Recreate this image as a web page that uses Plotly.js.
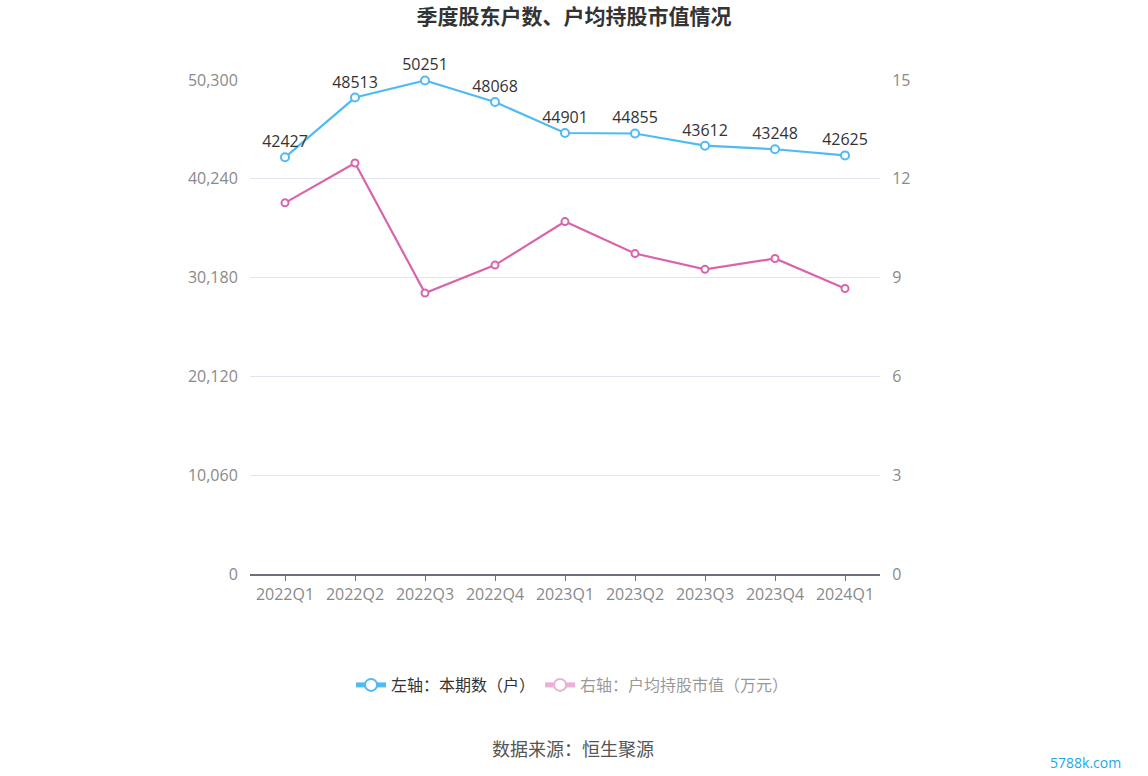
<!DOCTYPE html>
<html>
<head>
<meta charset="utf-8">
<script src="https://cdn.plot.ly/plotly-3.0.1.min.js"></script>
<style>html,body{margin:0;padding:0;background:#fff;}#chart{width:1148px;height:776px;}</style>
</head>
<body>
<div id="chart"></div>
<script>
const categories = ['2022Q1','2022Q2','2022Q3','2022Q4','2023Q1','2023Q2','2023Q3','2023Q4','2024Q1'];
const holders = [42427, 48513, 50251, 48068, 44901, 44855, 43612, 43248, 42625];
const avgValue = [11.27, 12.48, 8.53, 9.38, 10.70, 9.73, 9.25, 9.58, 8.67];
const leftTicks = [0, 10060, 20120, 30180, 40240, 50300];
const rightTicks = [0, 3, 6, 9, 12, 15];
const seriesNames = ['左轴：本期数（户）', '右轴：户均持股市值（万元）'];

const font = '"Noto Sans CJK SC", "Noto Sans", sans-serif';
const numFont = '"Open Sans", "Noto Sans", sans-serif';
const blue = '#4fbbf2';
const pink = '#d864ac';

const traces = [
  {
    x: categories, y: holders, name: seriesNames[0], type: 'scatter',
    mode: 'lines+markers+text', text: holders.map(String), textposition: 'top center',
    textfont: {size: 16, color: '#333', family: numFont},
    line: {color: blue, width: 2.2},
    marker: {symbol: 'circle', size: 8, color: '#fff', line: {color: blue, width: 2}},
    cliponaxis: false, hoverinfo: 'skip'
  },
  {
    x: categories, y: avgValue, name: seriesNames[1], type: 'scatter', yaxis: 'y2',
    mode: 'lines+markers', showlegend: false,
    line: {color: pink, width: 2.2},
    marker: {symbol: 'circle', size: 7, color: '#fff', line: {color: pink, width: 2}},
    cliponaxis: false, hoverinfo: 'skip'
  },
  {
    x: categories, y: avgValue, name: seriesNames[1], type: 'scatter', yaxis: 'y2',
    mode: 'lines+markers', visible: 'legendonly',
    line: {color: pink, width: 2.2},
    marker: {symbol: 'circle', size: 7, color: '#fff', line: {color: pink, width: 2}}
  }
];

const layout = {
  width: 1148, height: 776,
  margin: {l: 250, r: 268, t: 80, b: 202},
  paper_bgcolor: '#fff', plot_bgcolor: '#fff',
  font: {family: font, color: '#333'},
  showlegend: true,
  title: {
    text: '<b>季度股东户数、户均持股市值情况</b>',
    font: {size: 21, color: '#333', family: font},
    x: 0.5, xanchor: 'center', y: 1 - 17/776, yanchor: 'middle', yref: 'container'
  },
  xaxis: {
    type: 'category', range: [-0.5, 8.5], fixedrange: true,
    showline: true, linecolor: '#6e7079', linewidth: 1.5,
    ticks: 'outside', ticklen: 5, tickcolor: '#6e7079',
    tickfont: {size: 16, color: '#8a8a8a', family: numFont},
    showgrid: false, zeroline: false
  },
  yaxis: {
    range: [0, 50300], tickvals: leftTicks, tickformat: ',',
    showgrid: true, gridcolor: '#e0e6f1', gridwidth: 1, zeroline: false,
    showline: false, ticks: 'outside', ticklen: 8, tickcolor: 'rgba(0,0,0,0)',
    tickfont: {size: 16, color: '#8a8a8a', family: numFont}
  },
  yaxis2: {
    range: [0, 15], tickvals: rightTicks, overlaying: 'y', side: 'right',
    showgrid: false, zeroline: false, showline: false,
    ticks: 'outside', ticklen: 8, tickcolor: 'rgba(0,0,0,0)',
    tickfont: {size: 16, color: '#8a8a8a', family: numFont}
  },
  legend: {
    orientation: 'h', x: 0.512, xanchor: 'center', y: (574-685)/494, yanchor: 'middle',
    font: {size: 16, color: '#333', family: font}, itemsizing: 'constant',
    itemclick: false, itemdoubleclick: false
  },
  annotations: [
    {text: '数据来源：恒生聚源', xref: 'paper', yref: 'paper', x: 0.513, y: (574-748)/494,
     xanchor: 'center', yanchor: 'middle', showarrow: false,
     font: {size: 18, color: '#555', family: font}},
    {text: '5788k.com', xref: 'paper', yref: 'paper', x: (1085-250)/630, y: (574-762)/494,
     xanchor: 'center', yanchor: 'middle', showarrow: false,
     font: {size: 14, color: '#1aa8ea', family: numFont}}
  ]
};

Plotly.newPlot('chart', traces, layout, {displayModeBar: false, staticPlot: false});
</script>
</body>
</html>
